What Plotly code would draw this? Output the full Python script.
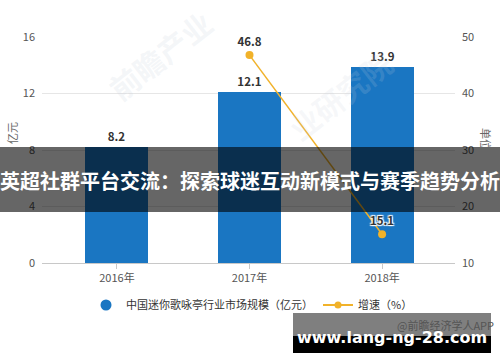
import plotly.graph_objects as go

# ---- data ----
categories = ["2016年", "2017年", "2018年"]
market_size = [8.2, 12.1, 13.9]          # 亿元
growth_years = ["2017年", "2018年"]
growth_rate = [46.8, 15.1]               # %
series_names = ["中国迷你歌咏亭行业市场规模（亿元）", "增速（%）"]
left_ticks = [0, 4, 8, 12, 16]
right_ticks = [10, 20, 30, 40, 50]

W, H = 500, 362
L, R, T, B = 42, 45, 37, 99
PW, PH = W - L - R, H - T - B

def px(x):
    return (x - L) / PW

def py(y):
    return (H - B - y) / PH

xi = list(range(len(categories)))
gx = [categories.index(c) for c in growth_years]

BLUE = "#1a76c2"
ORANGE = "#f1b22a"
CJK = "Noto Sans CJK SC"

fig = go.Figure()
fig.add_trace(go.Bar(
    x=xi, y=market_size, width=0.475, marker=dict(color=BLUE, line=dict(width=0)),
    text=[f"{v:.1f}" for v in market_size], textposition="outside",
    textfont=dict(family=CJK, size=11.5, color="#333", weight="bold"),
    cliponaxis=False, showlegend=False, name=series_names[0]))
fig.add_trace(go.Scatter(
    x=gx, y=growth_rate, yaxis="y2", mode="lines+markers+text",
    line=dict(color=ORANGE, width=1.5), marker=dict(color=ORANGE, size=8),
    text=[f"{v:.1f}" for v in growth_rate], textposition="top center",
    textfont=dict(family=CJK, size=11.5, color="#333", weight="bold",
                  shadow="1px 1px 1px #fff, -1px -1px 1px #fff, 1px -1px 1px #fff, -1px 1px 1px #fff"),
    cliponaxis=False, showlegend=False, name=series_names[1]))
# legend proxies
fig.add_trace(go.Scatter(x=[None], y=[None], mode="markers", name=series_names[0],
                         marker=dict(color=BLUE, size=11, symbol="circle")))
fig.add_trace(go.Scatter(x=[None], y=[None], mode="lines+markers", name=series_names[1],
                         line=dict(color=ORANGE, width=2), marker=dict(color=ORANGE, size=7)))

def ann(x, y, text, font, angle=0):
    return dict(x=px(x), y=py(y), xref="paper", yref="paper", text=text, showarrow=False,
                xanchor="center", yanchor="middle", textangle=angle, font=font)

annotations = [
    # watermark
    ann(160, 55, "前瞻产业", dict(family=CJK, size=30, color="rgba(200,208,220,0.2)", weight="bold"), -38),
    ann(340, 95, "业研究院", dict(family=CJK, size=30, color="rgba(200,208,220,0.17)", weight="bold"), -38),
    # axis titles
    ann(12, 150, "单位：亿元", dict(family=CJK, size=11, color="#666"), -90),
    ann(486, 150, "单位：%", dict(family=CJK, size=11, color="#666"), 90),
    # banner title
    ann(250, 180, "英超社群平台交流：探索球迷互动新模式与赛季趋势分析",
        dict(family=CJK, size=20, color="white", weight="bold")),
    ann(445, 325, "@前瞻经济学人APP", dict(family=CJK, size=11, color="#555")),
    ann(392, 337, "www.lang-ng-28.com", dict(family="DejaVu Sans", size=16, color="white", weight="bold")),
]

shapes = [
    dict(type="rect", xref="paper", yref="paper", x0=px(0), x1=px(500), y0=py(147), y1=py(212),
         fillcolor="rgba(0,0,0,0.6)", line=dict(width=0), layer="above"),
    dict(type="rect", xref="paper", yref="paper", x0=px(293), x1=px(491), y0=py(313), y1=py(336),
         fillcolor="rgba(0,0,0,0.5)", line=dict(width=0), layer="above"),
    dict(type="rect", xref="paper", yref="paper", x0=px(293), x1=px(491), y0=py(336), y1=py(353),
         fillcolor="black", line=dict(width=0), layer="above"),
]

fig.update_layout(
    width=W, height=H, margin=dict(l=L, r=R, t=T, b=B, pad=0),
    paper_bgcolor="white", plot_bgcolor="white", bargap=0,
    font=dict(family=CJK, size=11, color="#555"),
    xaxis=dict(range=[-0.565, 2.55], tickvals=xi, ticktext=categories, showgrid=False,
               zeroline=False, showline=True, linecolor="#c8c8c8", linewidth=1,
               ticks="outside", ticklen=5, tickcolor="#c8c8c8",
               tickfont=dict(family=CJK, size=11, color="#555")),
    yaxis=dict(range=[0, 16], tickvals=left_ticks, showgrid=True, gridcolor="#e6e6e6",
               zeroline=False, showline=False, ticks="", ticklabelstandoff=6,
               tickfont=dict(family=CJK, size=11, color="#555")),
    yaxis2=dict(range=[10, 50], tickvals=right_ticks, overlaying="y", side="right",
                showgrid=False, zeroline=False, showline=False, ticks="", ticklabelstandoff=6,
                tickfont=dict(family=CJK, size=11, color="#555")),
    legend=dict(orientation="h", x=px(252), xanchor="center", y=py(305), yanchor="middle",
                font=dict(family=CJK, size=11, color="#333"), itemwidth=30,
                bgcolor="rgba(0,0,0,0)"),
    annotations=annotations, shapes=shapes,
)

fig.write_html("out.html", config={"displayModeBar": False},
               post_script="document.body.style.margin='0';document.body.style.padding='0';")
